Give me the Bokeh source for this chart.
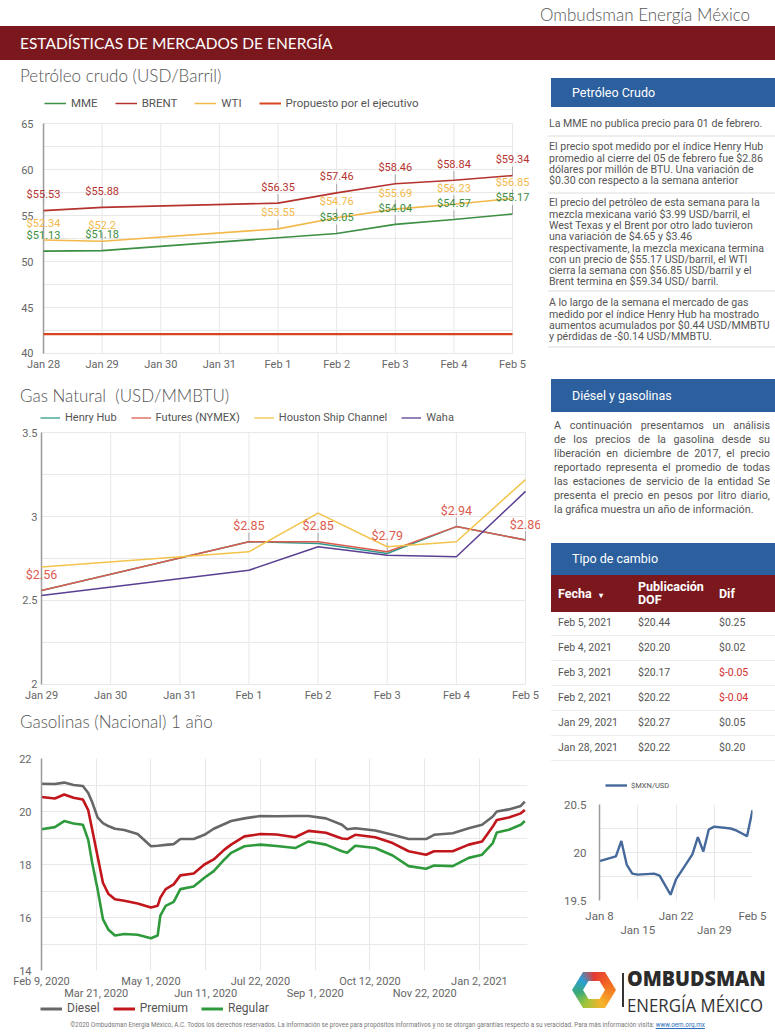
import pandas as pd
from bokeh.plotting import figure
from bokeh.models import (Div, Legend, LegendItem, FixedTicker, Range1d, DatetimeAxis,
                          NumeralTickFormatter, ColumnDataSource)
from bokeh.layouts import column, row
from bokeh.core.properties import value
from bokeh.embed import file_html
from bokeh.resources import INLINE

# ------------------------------------------------------------------ data
# Petróleo crudo (USD/Barril)
oil_fechas = ["2021-01-28", "2021-01-29", "2021-02-01", "2021-02-02", "2021-02-03", "2021-02-04", "2021-02-05"]
brent = [55.53, 55.88, 56.35, 57.46, 58.46, 58.84, 59.34]
wti = [52.34, 52.2, 53.55, 54.76, 55.69, 56.23, 56.85]
propuesto = [42.1, 42.1, 42.1, 42.1, 42.1, 42.1, 42.1]
mme_fechas = ["2021-01-28", "2021-01-29", "2021-02-02", "2021-02-03", "2021-02-04", "2021-02-05"]
mme = [51.13, 51.18, 53.05, 54.04, 54.57, 55.17]
oil_ticks = ["2021-01-28", "2021-01-29", "2021-01-30", "2021-01-31", "2021-02-01",
             "2021-02-02", "2021-02-03", "2021-02-04", "2021-02-05"]
oil_tick_labels = ["Jan 28", "Jan 29", "Jan 30", "Jan 31", "Feb 1", "Feb 2", "Feb 3", "Feb 4", "Feb 5"]
oil_y_ticks = [40, 45, 50, 55, 60, 65]
oil_y_minor = [42.5, 47.5, 52.5, 57.5, 62.5]

# Gas natural (USD/MMBTU)
gas_fechas = ["2021-01-29", "2021-02-01", "2021-02-02", "2021-02-03", "2021-02-04", "2021-02-05"]
henry_hub = [2.56, 2.85, 2.84, 2.78, 2.94, 2.86]
futures = [2.56, 2.85, 2.85, 2.79, 2.94, 2.86]
houston = [2.70, 2.79, 3.02, 2.82, 2.85, 3.22]
waha = [2.53, 2.68, 2.82, 2.77, 2.76, 3.15]
gas_ticks = ["2021-01-29", "2021-01-30", "2021-01-31", "2021-02-01", "2021-02-02",
             "2021-02-03", "2021-02-04", "2021-02-05"]
gas_tick_labels = ["Jan 29", "Jan 30", "Jan 31", "Feb 1", "Feb 2", "Feb 3", "Feb 4", "Feb 5"]
gas_y_ticks = [2, 2.5, 3, 3.5]
gas_y_minor = [2.25, 2.75, 3.25]

# Gasolinas (Nacional) 1 año
gasol_fechas = ["2020-02-09", "2020-02-19", "2020-02-26", "2020-03-04", "2020-03-11", "2020-03-15",
                "2020-03-18", "2020-03-22", "2020-03-26", "2020-03-30", "2020-04-04", "2020-04-11",
                "2020-04-21", "2020-05-01", "2020-05-06", "2020-05-08", "2020-05-12", "2020-05-18",
                "2020-05-23", "2020-06-02", "2020-06-10", "2020-06-17", "2020-06-25", "2020-06-30",
                "2020-07-10", "2020-07-22", "2020-08-03", "2020-08-17", "2020-08-27", "2020-09-09",
                "2020-09-21", "2020-09-25", "2020-10-01", "2020-10-16", "2020-10-29", "2020-11-10",
                "2020-11-23", "2020-11-29", "2020-12-13", "2020-12-25", "2021-01-04", "2021-01-12",
                "2021-01-15", "2021-01-24", "2021-02-02", "2021-02-05"]
diesel = [21.05, 21.04, 21.09, 21.0, 20.96, 20.7, 20.35, 19.78, 19.56, 19.45, 19.35, 19.3,
          19.15, 18.69, 18.71, 18.72, 18.74, 18.77, 18.96, 18.96, 19.12, 19.35, 19.53, 19.64,
          19.74, 19.83, 19.82, 19.83, 19.83, 19.74, 19.5, 19.33, 19.37, 19.28, 19.12, 18.96,
          18.96, 19.12, 19.18, 19.37, 19.5, 19.81, 20.0, 20.08, 20.21, 20.37]
premium = [20.55, 20.49, 20.64, 20.52, 20.45, 20.05, 19.31, 18.31, 17.31, 16.9, 16.69, 16.63,
           16.53, 16.38, 16.44, 16.75, 17.07, 17.25, 17.59, 17.66, 18.0, 18.19, 18.56, 18.75,
           19.06, 19.15, 19.13, 19.03, 19.27, 19.2, 18.98, 18.96, 19.12, 19.03, 18.81, 18.5,
           18.37, 18.5, 18.5, 18.75, 18.87, 19.43, 19.68, 19.77, 19.93, 20.06]
regular = [19.33, 19.41, 19.64, 19.55, 19.5, 18.93, 18.06, 17.07, 15.94, 15.55, 15.32, 15.38,
           15.35, 15.22, 15.32, 16.07, 16.44, 16.59, 17.07, 17.17, 17.5, 17.75, 18.19, 18.44,
           18.69, 18.75, 18.7, 18.62, 18.87, 18.75, 18.5, 18.44, 18.71, 18.62, 18.34, 17.94,
           17.84, 17.96, 17.94, 18.25, 18.37, 18.81, 19.21, 19.31, 19.5, 19.64]
gasol_ticks_row1 = ["2020-02-09", "2020-05-01", "2020-07-22", "2020-10-12", "2021-01-02"]
gasol_labels_row1 = ["Feb 9, 2020", "May 1, 2020", "Jul 22, 2020", "Oct 12, 2020", "Jan 2, 2021"]
gasol_ticks_row2 = ["2020-03-21", "2020-06-11", "2020-09-01", "2020-11-22"]
gasol_labels_row2 = ["Mar 21, 2020", "Jun 11, 2020", "Sep 1, 2020", "Nov 22, 2020"]
gasol_y_ticks = [14, 16, 18, 20, 22]
gasol_y_minor = [15, 17, 19, 21]

# Tipo de cambio
fx_fecha = ["Feb 5, 2021", "Feb 4, 2021", "Feb 3, 2021", "Feb 2, 2021", "Jan 29, 2021", "Jan 28, 2021"]
fx_dof = [20.44, 20.20, 20.17, 20.22, 20.27, 20.22]
fx_dif = [0.25, 0.02, -0.05, -0.04, 0.05, 0.20]

mxn_fechas = ["2021-01-08", "2021-01-11", "2021-01-12", "2021-01-13", "2021-01-14", "2021-01-15",
              "2021-01-18", "2021-01-19", "2021-01-20", "2021-01-21", "2021-01-22", "2021-01-25",
              "2021-01-26", "2021-01-27", "2021-01-28", "2021-01-29", "2021-02-01", "2021-02-02",
              "2021-02-03", "2021-02-04", "2021-02-05"]
mxn_usd = [19.91, 19.96, 20.12, 19.87, 19.78, 19.77, 19.78, 19.76, 19.66, 19.56, 19.72, 19.98,
           20.16, 20.01, 20.24, 20.27, 20.25, 20.23, 20.20, 20.17, 20.44]
mxn_ticks_row1 = ["2021-01-08", "2021-01-22", "2021-02-05"]
mxn_labels_row1 = ["Jan 8", "Jan 22", "Feb 5"]
mxn_ticks_row2 = ["2021-01-15", "2021-01-29"]
mxn_labels_row2 = ["Jan 15", "Jan 29"]
mxn_y_ticks = [19.5, 20, 20.5]
mxn_y_minor = [19.75, 20.25]

# ------------------------------------------------------------------ style
FONT = "Roboto"
GRID = "#e8e8e8"
AXIS_LINE = "#9a9a9a"
TXT = "#666666"
BLUE = "#2c5f9e"
DARK_RED = "#7a181d"

C_MME, C_BRENT, C_WTI, C_PROP = "#3d8f43", "#b5332f", "#f3b84a", "#d8461e"
C_HH, C_FUT, C_HOU, C_WAHA = "#2e9c8c", "#dc5b4f", "#f3c44b", "#5b3f93"
C_DIE, C_PRE, C_REG = "#676767", "#c0161c", "#2e9a3c"
C_MXN = "#46699b"


def ms(d):
    return pd.Timestamp(d).value / 1e6


def no_align(p):
    # keep every figure's frame where its own borders put it (no alignment across the column)
    try:
        p.frame_align = False
    except Exception:
        pass


def make_fig(w, h, x0, x1, yr, borders, yaxis=True):
    l, r, t, b = borders
    extra = {} if yaxis else {"y_axis_location": None}
    p = figure(width=w, height=h, x_axis_type="datetime",
               x_range=Range1d(x0, x1), y_range=Range1d(yr[0], yr[1]),
               toolbar_location=None, output_backend="svg",
               min_border_left=l, min_border_right=r, min_border_top=t, min_border_bottom=b, **extra)
    p.outline_line_color = None
    p.border_fill_color = "white"
    p.background_fill_color = "white"
    no_align(p)
    return p


def style_x(p, xticks, xlabels, grid_xticks=None, xstand=5, fsize="11px"):
    tms = [ms(t) for t in xticks]
    xa = p.xaxis[0]
    xa.ticker = FixedTicker(ticks=tms)
    xa.major_label_overrides = dict(zip(tms, xlabels))
    xa.axis_line_color = None
    xa.major_tick_line_color = None
    xa.minor_tick_line_color = None
    xa.major_tick_out = 0
    xa.major_label_standoff = xstand
    xa.major_label_text_font = FONT
    xa.major_label_text_font_size = fsize
    xa.major_label_text_color = TXT
    gx = [ms(t) for t in (grid_xticks or xticks)]
    p.xgrid.ticker = FixedTicker(ticks=gx)
    p.xgrid.grid_line_color = GRID


def style_y(p, yticks, yminor, ystand=8, fsize="11px"):
    ya = p.yaxis[0]
    yt = FixedTicker(ticks=yticks, minor_ticks=yminor)
    ya.ticker = yt
    ya.formatter = NumeralTickFormatter(format="0.[0]")
    ya.axis_line_color = AXIS_LINE
    ya.axis_line_width = 1.5
    ya.major_tick_line_color = None
    ya.minor_tick_line_color = None
    ya.major_tick_out = 0
    ya.major_label_standoff = ystand
    ya.major_label_text_font = FONT
    ya.major_label_text_font_size = fsize
    ya.major_label_text_color = TXT
    p.ygrid.ticker = yt
    p.ygrid.grid_line_color = GRID
    p.ygrid.minor_grid_line_color = GRID


def drawn_axes(p, xticks, yticks, yminor, lab_off, fsize="11px"):
    # grid, y axis line and y tick labels drawn inside the (padded) frame, spanning the dated range
    p.xgrid.visible = False
    p.ygrid.visible = False
    x0, x1 = pd.Timestamp(xticks[0]), pd.Timestamp(xticks[-1])
    ys = sorted(yticks + yminor)
    n = len(ys)
    p.segment(x0=[x0] * n, x1=[x1] * n, y0=ys, y1=ys, line_color=GRID, line_width=1)
    xs = list(pd.to_datetime(xticks))
    m = len(xs)
    p.segment(x0=xs, x1=xs, y0=[yticks[0]] * m, y1=[yticks[-1]] * m, line_color=GRID, line_width=1)
    p.segment(x0=[x0], x1=[x0], y0=[yticks[0]], y1=[yticks[-1]], line_color=AXIS_LINE, line_width=1.5)
    p.text(x=[x0] * len(yticks), y=yticks, text=[format(v, "g") for v in yticks], x_offset=-lab_off,
           text_align="right", text_baseline="middle", text_font=value(FONT),
           text_font_size=value(fsize), text_color=TXT)


def second_axis(p, ticks, labels, fsize="11px", standoff=0):
    tms = [ms(t) for t in ticks]
    ax = DatetimeAxis(ticker=FixedTicker(ticks=tms), major_label_overrides=dict(zip(tms, labels)),
                      axis_line_color=None, major_tick_line_color=None, minor_tick_line_color=None,
                      major_tick_out=0, major_tick_in=0, major_label_standoff=standoff,
                      major_label_text_font=FONT, major_label_text_font_size=fsize,
                      major_label_text_color=TXT)
    p.add_layout(ax, "below")


def legend_fig(width, height, spec, vx, fsize, glyph_w, spacing, standoff=5):
    lp = figure(width=width, height=height, toolbar_location=None, output_backend="svg",
                min_border=0, x_axis_location=None, y_axis_location=None,
                x_range=Range1d(0, 1), y_range=Range1d(0, 1))
    lp.grid.visible = False
    lp.outline_line_color = None
    no_align(lp)
    items = []
    for label, color, lw, xs, ys in spec:
        r = lp.line(x=xs, y=ys, line_color=color, line_width=lw, visible=False)
        items.append(LegendItem(label=label, renderers=[r]))
    lp.add_layout(Legend(items=items, orientation="horizontal", location=(vx, 0),
                         label_text_font=FONT, label_text_font_size=fsize,
                         label_text_color="#555555", glyph_width=glyph_w, glyph_height=height,
                         label_height=height, label_standoff=standoff, spacing=spacing,
                         padding=0, margin=0, border_line_alpha=0, background_fill_alpha=0,
                         inactive_fill_alpha=0))
    return lp


def leaders(p, x, y):
    src = ColumnDataSource(dict(x=x, y=y, t=["$" + format(v, "g") for v in y]))
    p.ray(x="x", y="y", length=9, angle=90, angle_units="deg", length_units="screen",
          line_color="#a8a8a8", line_width=1, source=src)
    return src


def draw_labels(p, src, color, size, off=-16):
    p.text(x="x", y="y", text="t", source=src, text_font=value(FONT), text_font_size=value(size),
           text_color=color, text_align="center", text_baseline="middle", y_offset=off)


def title_div(text, h, center, width=540):
    html = ('<div style="position:relative;width:%dpx;height:%dpx;">'
            '<div style="position:absolute;left:20px;top:%dpx;font-family:Lato;font-weight:300;'
            'font-size:17px;line-height:20px;color:#555555;white-space:pre;">%s</div></div>'
            % (width, h, center - 10, text))
    return Div(text=html, width=width, height=h, margin=0, disable_math=True)


ox = pd.to_datetime(oil_fechas)
mx = pd.to_datetime(mme_fechas)
gx = pd.to_datetime(gas_fechas)
gfx = pd.to_datetime(gasol_fechas)
mxx = pd.to_datetime(mxn_fechas)

# ------------------------------------------------------------------ Petróleo crudo
oil_title = title_div("Petróleo crudo (USD/Barril)", 32, 16)
oil_leg = legend_fig(540, 22, [("MME", C_MME, 1.5, mx, mme), ("BRENT", C_BRENT, 1.5, ox, brent),
                               ("WTI", C_WTI, 1.5, ox, wti),
                               ("Propuesto por el ejecutivo", C_PROP, 2, ox, propuesto)],
                     44, "11.5px", 22, 17)
oil = make_fig(540, 266, pd.Timestamp(oil_ticks[0]) - pd.Timedelta(hours=12.7),
               pd.Timestamp(oil_ticks[-1]) + pd.Timedelta(hours=9.4),
               (oil_y_ticks[0] - 0.87, oil_y_ticks[-1] + 0.98), (12, 5, 0, 19), yaxis=False)
style_x(oil, oil_ticks, oil_tick_labels, xstand=-4)
drawn_axes(oil, oil_ticks, oil_y_ticks, oil_y_minor, 10)
s_b = leaders(oil, ox, brent)
s_w = leaders(oil, ox, wti)
s_m = leaders(oil, mx, mme)
oil.line(mx, mme, line_color=C_MME, line_width=1.6)
oil.line(ox, brent, line_color=C_BRENT, line_width=1.6)
oil.line(ox, wti, line_color=C_WTI, line_width=1.6)
oil.line(ox, propuesto, line_color=C_PROP, line_width=2.2)
draw_labels(oil, s_b, C_BRENT, "11px")
draw_labels(oil, s_w, C_WTI, "11px")
draw_labels(oil, s_m, C_MME, "11px")

# ------------------------------------------------------------------ Gas natural
gas_title = title_div("Gas Natural  (USD/MMBTU)", 31, 16)
gas_leg = legend_fig(540, 13, [("Henry Hub", C_HH, 1.3, gx, henry_hub),
                               ("Futures (NYMEX)", C_FUT, 1.3, gx, futures),
                               ("Houston Ship Channel", C_HOU, 1.3, gx, houston),
                               ("Waha", C_WAHA, 1.3, gx, waha)],
                     40, "11px", 20, 14)
gas = make_fig(540, 281, pd.Timestamp(gas_ticks[0]) - pd.Timedelta(hours=10.07),
               pd.Timestamp(gas_ticks[-1]) + pd.Timedelta(hours=5.2),
               (gas_y_ticks[0] - 0.042, gas_y_ticks[-1] + 0.048), (12, 0, 0, 14), yaxis=False)
style_x(gas, gas_ticks, gas_tick_labels, xstand=-3)
drawn_axes(gas, gas_ticks, gas_y_ticks, gas_y_minor, 4)
s_f = leaders(gas, gx, futures)
gas.line(gx, henry_hub, line_color=C_HH, line_width=1.5)
gas.line(gx, futures, line_color=C_FUT, line_width=1.5)
gas.line(gx, houston, line_color=C_HOU, line_width=1.5)
gas.line(gx, waha, line_color=C_WAHA, line_width=1.5)
draw_labels(gas, s_f, C_FUT, "12.5px")

# ------------------------------------------------------------------ Gasolinas
gasol_title = title_div("Gasolinas (Nacional) 1 año", 35, 17)
gasol = make_fig(540, 262, pd.Timestamp("2020-02-09"), pd.Timestamp("2021-02-07"),
                 (14, 22), (41, 13, 18, 30))
style_x(gasol, gasol_ticks_row1, gasol_labels_row1,
        grid_xticks=sorted(gasol_ticks_row1 + gasol_ticks_row2), xstand=4)
style_y(gasol, gasol_y_ticks, gasol_y_minor, ystand=6)
second_axis(gasol, gasol_ticks_row2, gasol_labels_row2, standoff=-4)
gasol.line(gfx, diesel, line_color=C_DIE, line_width=2.6)
gasol.line(gfx, premium, line_color=C_PRE, line_width=2.6)
gasol.line(gfx, regular, line_color=C_REG, line_width=2.6)
gasol_leg = legend_fig(540, 13, [("Diesel", C_DIE, 3, gfx, diesel), ("Premium", C_PRE, 3, gfx, premium),
                                 ("Regular", C_REG, 3, gfx, regular)],
                       40, "12px", 22, 13)

# ------------------------------------------------------------------ MXN/USD
mxn_leg = legend_fig(235, 14, [("$MXN/USD", C_MXN, 2.4, mxx, mxn_usd)], 65, "7.5px", 22, 10,
                     standoff=4)
mxn = make_fig(235, 153, pd.Timestamp("2021-01-08"), pd.Timestamp("2021-02-05"),
               (19.5, 20.5), (59, 23, 12, 45))
style_x(mxn, mxn_ticks_row1, mxn_labels_row1,
        grid_xticks=sorted(mxn_ticks_row1 + mxn_ticks_row2), xstand=8, fsize="11.5px")
style_y(mxn, mxn_y_ticks, mxn_y_minor, ystand=9, fsize="11.5px")
second_axis(mxn, mxn_ticks_row2, mxn_labels_row2, fsize="11.5px", standoff=-3)
mxn.line(mxx, mxn_usd, line_color=C_MXN, line_width=2.4)

# ------------------------------------------------------------------ HTML parts
def blue_box(top, h, text):
    return ('<div style="position:absolute;left:11px;top:%dpx;width:224px;height:%dpx;background:%s;'
            'color:#ffffff;font-family:Roboto;font-size:12.5px;line-height:%dpx;padding-left:21px;'
            'box-sizing:border-box;">%s</div>' % (top, h, BLUE, h, text))


def sep(top):
    return ('<div style="position:absolute;left:8px;top:%dpx;width:227px;height:2px;'
            'background:#eeeeee;"></div>' % top)


def lines_block(left, top, lines, size=10.6, lh=11.3):
    return ('<div style="position:absolute;left:%spx;top:%spx;white-space:nowrap;font-family:Roboto;'
            'font-size:%spx;line-height:%spx;color:#555555;">' % (left, top, size, lh)
            + "<br>".join(lines) + '</div>')


def justified(left, top, width, lines, size=10.8, lh=14):
    out = ""
    for i, ln in enumerate(lines):
        last = "left" if i == len(lines) - 1 else "justify"
        out += ('<div style="position:absolute;left:%dpx;top:%dpx;width:%dpx;height:%dpx;'
                'font-family:Roboto;font-size:%spx;line-height:%dpx;color:#555555;white-space:nowrap;'
                'text-align:justify;text-align-last:%s;">%s</div>'
                % (left, top + i * lh, width, lh, size, lh, last, ln))
    return out


def table_html(top):
    h = ('<div style="position:absolute;left:11px;top:%dpx;width:224px;height:37px;background:%s;'
         'color:#ffffff;font-family:Roboto;font-weight:bold;font-size:12.5px;">'
         '<div style="position:absolute;left:7px;top:11px;line-height:15px;">Fecha'
         '<span style="font-size:8px;margin-left:7px;">&#9662;</span></div>'
         '<div style="position:absolute;left:87px;top:5px;line-height:13px;">Publicación<br>DOF</div>'
         '<div style="position:absolute;left:168px;top:11px;line-height:15px;">Dif</div></div>'
         % (top, DARK_RED))
    for i, (f, d, c) in enumerate(zip(fx_fecha, fx_dof, fx_dif)):
        y = top + 37 + i * 25
        col = "#d32f2f" if c < 0 else "#555555"
        h += ('<div style="position:absolute;left:11px;top:%dpx;width:224px;height:24px;'
              'border-bottom:1px solid #eeeeee;font-family:Roboto;font-size:10.5px;line-height:22px;'
              'color:#555555;">'
              '<span style="position:absolute;left:7px;">%s</span>'
              '<span style="position:absolute;left:87px;">$%.2f</span>'
              '<span style="position:absolute;left:168px;color:%s;">$%.2f</span></div>'
              % (y, f, d, col, c))
    return h


para1 = ["La MME no publica precio para 01 de febrero."]
para2 = ["El precio spot medido por el índice Henry Hub",
         "promedio al cierre del 05 de febrero fue $2.86",
         "dólares por millón de BTU. Una variación de",
         "$0.30 con respecto a la semana anterior"]
para3 = ["El precio del petróleo de esta semana para la",
         "mezcla mexicana varió $3.99 USD/barril, el",
         "West Texas y el Brent por otro lado tuvieron",
         "una variación de $4.65 y $3.46",
         "respectivamente, la mezcla mexicana termina",
         "con un precio de $55.17 USD/barril, el WTI",
         "cierra la semana con $56.85 USD/barril y el",
         "Brent termina en $59.34 USD/ barril."]
para4 = ["A lo largo de la semana el mercado de gas",
         "medido por el índice Henry Hub ha mostrado",
         "aumentos acumulados por $0.44 USD/MMBTU",
         "y pérdidas de -$0.14 USD/MMBTU."]
para_diesel = ["A continuación presentamos un análisis",
               "de los precios de la gasolina desde su",
               "liberación en diciembre de 2017, el precio",
               "reportado representa el promedio de todas",
               "las estaciones de servicio de la entidad Se",
               "presenta el precio en pesos por litro diario,",
               "la gráfica muestra un año de información."]

right_html = ('<div style="position:relative;width:235px;height:718px;overflow:hidden;">'
              + blue_box(18, 29, "Petróleo Crudo")
              + lines_block(9, 58.4, para1) + sep(75)
              + lines_block(9, 81.4, para2) + sep(132)
              + lines_block(9, 137.4, para3) + sep(230)
              + lines_block(9, 237.4, para4) + sep(286)
              + blue_box(319, 33, "Diésel y gasolinas")
              + justified(14, 359, 216, para_diesel)
              + blue_box(483, 32, "Tipo de cambio")
              + table_html(515)
              + '</div>')
right_div = Div(text=right_html, width=235, height=718, margin=0, disable_math=True)

logo_html = (
    '<div style="position:relative;width:235px;height:70px;">'
    '<div style="position:absolute;left:32px;top:27px;width:44px;height:36px;'
    'clip-path:polygon(25% 0,75% 0,100% 50%,75% 100%,25% 100%,0 50%);'
    'background:conic-gradient(from 0deg,#e53935,#f26b21 70deg,#f7b32b 150deg,#9bc53d 215deg,'
    '#3aa97a 260deg,#2b9fd6 310deg,#e53935);"></div>'
    '<div style="position:absolute;left:43px;top:36px;width:22px;height:18px;background:#ffffff;'
    'clip-path:polygon(25% 0,75% 0,100% 50%,75% 100%,25% 100%,0 50%);"></div>'
    '<div style="position:absolute;left:82px;top:28px;width:2px;height:34px;background:#333333;"></div>'
    "<div style=\"position:absolute;left:87px;top:23px;font-family:'Open Sans';font-weight:800;"
    'font-size:21px;line-height:20px;color:#2b2b2b;transform:scaleX(0.94);transform-origin:0 0;'
    'white-space:nowrap;">OMBUDSMAN</div>'
    "<div style=\"position:absolute;left:87px;top:53px;font-family:'Open Sans';font-size:17.5px;"
    'line-height:14px;color:#333333;transform:scaleX(0.96);transform-origin:0 0;'
    'white-space:nowrap;">ENERGÍA MÉXICO</div>'
    '</div>')
logo_div = Div(text=logo_html, width=235, height=70, margin=0, disable_math=True)

top_div = Div(text=('<div style="position:relative;width:775px;height:26px;">'
                    '<div style="position:absolute;right:25px;top:5px;font-family:Lato;font-weight:300;'
                    'font-size:17px;line-height:20px;color:#555555;white-space:nowrap;">'
                    'Ombudsman Energía México</div></div>'),
              width=775, height=26, margin=0, disable_math=True)
banner = Div(text=('<div style="width:775px;height:34px;background:%s;color:#ffffff;font-family:Lato;'
                   'font-size:15.5px;line-height:34px;padding-left:20px;box-sizing:border-box;">'
                   'ESTADÍSTICAS DE MERCADOS DE ENERGÍA</div>' % DARK_RED),
             width=775, height=34, margin=0, disable_math=True)
footer = Div(text=('<div style="width:775px;height:16px;text-align:center;font-family:Roboto;'
                   'font-size:6.3px;line-height:18px;color:#777777;white-space:nowrap;">'
                   '©2020 Ombudsman Energía México, A.C. Todos los derechos reservados. La información se '
                   'provee para propósitos informativos y no se otorgan garantías respecto a su veracidad. '
                   'Para más información visita: <span style="color:#2a6ebb;text-decoration:underline;">'
                   'www.oem.org.mx</span></div>'),
             width=775, height=16, margin=0, disable_math=True)

left_col = column(oil_title, oil_leg, oil, gas_title, gas_leg, gas, gasol_title, gasol, gasol_leg,
                  spacing=0)
right_col = column(right_div, mxn_leg, mxn, logo_div, spacing=0)
page = column(top_div, banner, row(left_col, right_col, spacing=0), footer, spacing=0)

open("out.html", "w").write(file_html(page, INLINE, title="Estadísticas de mercados de energía"))
